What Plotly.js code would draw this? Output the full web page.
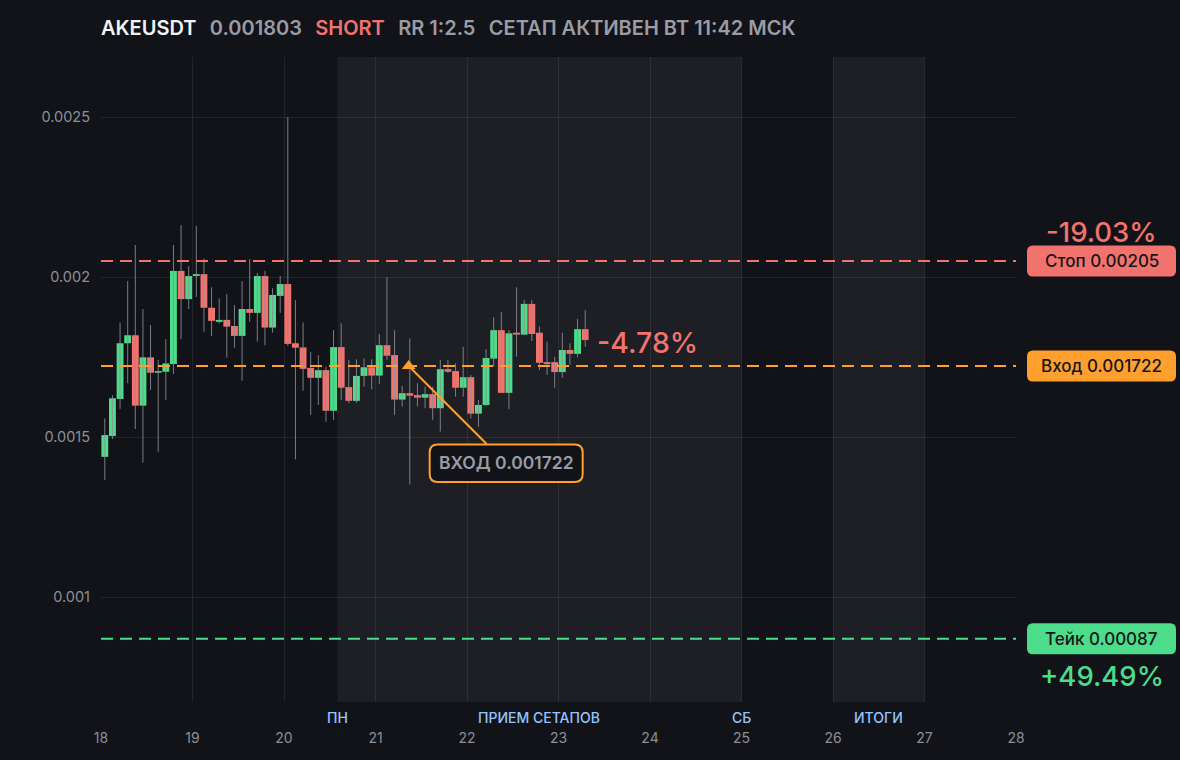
<!DOCTYPE html>
<html><head><meta charset="utf-8">
<script src="https://cdn.plot.ly/plotly-3.0.1.min.js"></script>
<style>html,body{margin:0;padding:0;background:#121318;} #chart{width:1180px;height:760px;}</style>
</head><body><div id="chart"></div>
<script>
// ---------- data ----------
const symbol = 'AKEUSDT';
const lastPriceText = '0.001803';
const sideText = 'SHORT';
const rrText = 'RR 1:2.5';
const statusText = 'СЕТАП АКТИВЕН ВТ 11:42 МСК';

const candleStartUTC = [2025, 9, 18, 1]; // 18 Oct 2025 01:00, 2h candles
const candleHours = 2;

const opens = [0.001438,0.001503,0.001619,0.001793,0.001818,0.001598,0.001749,0.001701,0.001704,0.001728,
0.002019,0.001931,0.002003,0.002009,0.001904,0.001860,0.001866,0.001847,0.001816,0.001900,
0.001888,0.002003,0.001842,0.001941,0.001978,0.001793,0.001780,0.001716,0.001685,0.001709,
0.001582,0.001781,0.001656,0.001613,0.001691,0.001718,0.001692,0.001787,0.001756,0.001617,
0.001637,0.001631,0.001623,0.001634,0.001590,0.001712,0.001706,0.001654,0.001687,0.001573,
0.001600,0.001745,0.001834,0.001638,0.001826,0.001820,0.001916,0.001826,0.001734,0.001734,
0.001703,0.001772,0.001760,0.001837];
const highs = [0.001558,0.001631,0.001858,0.001987,0.002100,0.001900,0.001850,0.001741,0.001806,0.002100,
0.002162,0.002034,0.002160,0.002058,0.001968,0.001933,0.001947,0.001912,0.001987,0.002056,
0.002013,0.002019,0.001965,0.002003,0.002500,0.001928,0.001858,0.001766,0.001756,0.001720,
0.001834,0.001855,0.001741,0.001743,0.001745,0.001743,0.001822,0.001999,0.001834,0.001660,
0.001808,0.001668,0.001657,0.001657,0.001741,0.001741,0.001730,0.001782,0.001694,0.001616,
0.001774,0.001874,0.001891,0.001834,0.001968,0.001928,0.001928,0.001845,0.001798,0.001751,
0.001826,0.001793,0.001869,0.001897];
const lows = [0.001366,0.001494,0.001588,0.001668,0.001525,0.001420,0.001647,0.001454,0.001616,0.001697,
0.001806,0.001900,0.001938,0.001829,0.001816,0.001855,0.001748,0.001779,0.001676,0.001860,
0.001798,0.001787,0.001826,0.001888,0.001785,0.001430,0.001645,0.001569,0.001600,0.001548,
0.001553,0.001616,0.001605,0.001607,0.001657,0.001649,0.001666,0.001741,0.001569,0.001595,
0.001352,0.001595,0.001590,0.001553,0.001517,0.001700,0.001626,0.001626,0.001558,0.001532,
0.001597,0.001720,0.001637,0.001587,0.001751,0.001818,0.001800,0.001709,0.001694,0.001654,
0.001685,0.001725,0.001749,0.001782];
const closes = [0.001506,0.001621,0.001793,0.001818,0.001598,0.001749,0.001701,0.001706,0.001730,0.002019,
0.001931,0.002003,0.002009,0.001904,0.001863,0.001866,0.001845,0.001816,0.001900,0.001888,
0.002003,0.001842,0.001944,0.001978,0.001791,0.001779,0.001713,0.001685,0.001709,0.001582,
0.001781,0.001654,0.001613,0.001691,0.001718,0.001692,0.001787,0.001754,0.001617,0.001637,
0.001629,0.001623,0.001634,0.001590,0.001712,0.001704,0.001654,0.001687,0.001573,0.001600,
0.001747,0.001834,0.001638,0.001824,0.001820,0.001916,0.001822,0.001732,0.001728,0.001703,
0.001772,0.001760,0.001837,0.001803];

const stopPrice = 0.00205;
const entryPrice = 0.001722;
const takePrice = 0.00087;
const lastPrice = 0.001803;
const stopLabel = 'Стоп 0.00205';
const entryLabel = 'Вход 0.001722';
const takeLabel = 'Тейк 0.00087';
const stopPct = '-19.03%';
const takePct = '+49.49%';
const currentPct = '-4.78%';
const entryTime = '2025-10-21 08:42:00';
const entryNote = 'ВХОД 0.001722';

const dayTickVals = ['2025-10-18','2025-10-19','2025-10-20','2025-10-21','2025-10-22','2025-10-23','2025-10-24','2025-10-25','2025-10-26','2025-10-27','2025-10-28'];
const dayTickText = ['18','19','20','21','22','23','24','25','26','27','28'];
const priceTickVals = [0.001, 0.0015, 0.002, 0.0025];
const priceTickText = ['0.001', '0.0015', '0.002', '0.0025'];

const bandStarts = ['2025-10-20 14:00:00', '2025-10-26 00:00:00'];
const bandEnds = ['2025-10-25 00:00:00', '2025-10-27 00:00:00'];
const sessionLabels = ['ПН', 'ПРИЕМ СЕТАПОВ', 'СБ', 'ИТОГИ'];
const sessionLabelTimes = ['2025-10-20 14:00:00', '2025-10-22 19:00:00', '2025-10-25 00:00:00', '2025-10-26 12:00:00'];

// ---------- styles ----------
const BG = '#121318', BAND = '#1e1f24', GRID = 'rgba(255,255,255,0.075)';
const GREEN = '#4cdc8a', RED = '#f2736e', ORANGE = '#ff9f2e';
const GRAY = '#9a9ca5', TICK = '#8c8f97', BLUE = '#93c5fd';
const FONT = 'Inter, "Noto Sans", sans-serif';

function fmt(ms) { return new Date(ms).toISOString().slice(0, 19).replace('T', ' '); }
const t0 = Date.UTC(candleStartUTC[0], candleStartUTC[1], candleStartUTC[2], candleStartUTC[3]);
const times = opens.map((_, i) => fmt(t0 + i * candleHours * 3600e3));

const wx = [], wy = [];
times.forEach((t, i) => { wx.push(t, t, null); wy.push(lows[i], highs[i], null); });

const wicks = { type: 'scatter', mode: 'lines', x: wx, y: wy, line: { color: 'rgba(140,143,150,0.85)', width: 1 }, hoverinfo: 'skip', showlegend: false };
const bodies = {
  type: 'bar', x: times,
  base: opens.map((o, i) => Math.min(o, closes[i])),
  y: opens.map((o, i) => Math.abs(closes[i] - o)),
  width: candleHours * 3600e3 * 0.9,
  marker: { color: opens.map((o, i) => closes[i] >= o ? GREEN : RED), line: { width: 0 } },
  hoverinfo: 'skip', showlegend: false
};
const marker = { type: 'scatter', mode: 'markers', x: [entryTime], y: [entryPrice], marker: { symbol: 'triangle-up', size: 12, color: ORANGE }, hoverinfo: 'skip', showlegend: false };

function rrect(x0, y0, x1, y1, r) {
  return `M ${x0 + r},${y0} L ${x1 - r},${y0} Q ${x1},${y0} ${x1},${y0 + r} L ${x1},${y1 - r} Q ${x1},${y1} ${x1 - r},${y1} L ${x0 + r},${y1} Q ${x0},${y1} ${x0},${y1 - r} L ${x0},${y0 + r} Q ${x0},${y0} ${x0 + r},${y0} Z`;
}

const shapes = [];
bandStarts.forEach((s, i) => shapes.push({ type: 'rect', xref: 'x', yref: 'paper', x0: s, x1: bandEnds[i], y0: 0, y1: 1, fillcolor: BAND, line: { width: 0 }, layer: 'below' }));
[[stopPrice, RED], [entryPrice, ORANGE], [takePrice, GREEN]].forEach(([p, c]) => {
  shapes.push({ type: 'line', xref: 'paper', yref: 'y', x0: 0, x1: 1, y0: p, y1: p, line: { color: c, width: 2, dash: '12px,7px' }, layer: 'above' });
  shapes.push({ type: 'path', xref: 'paper', yref: 'y', xsizemode: 'pixel', ysizemode: 'pixel', xanchor: 1, yanchor: p, path: rrect(11, -15.5, 160, 15.5, 6), fillcolor: c, line: { width: 0 }, layer: 'above' });
});
// entry callout
shapes.push({ type: 'line', xref: 'x', yref: 'y', xsizemode: 'pixel', ysizemode: 'pixel', xanchor: entryTime, yanchor: entryPrice, x0: 2, y0: -2, x1: 78, y1: -78, line: { color: ORANGE, width: 2 }, layer: 'above' });
shapes.push({ type: 'path', xref: 'x', yref: 'y', xsizemode: 'pixel', ysizemode: 'pixel', xanchor: entryTime, yanchor: entryPrice, path: rrect(21, -116, 174, -78.5, 8), fillcolor: BG, line: { color: ORANGE, width: 2 }, layer: 'above' });

const S = '&nbsp;&nbsp;&#8201;';
const annotations = [
  { xref: 'paper', yref: 'paper', x: 0, y: 1 + 29 / 645, xanchor: 'left', yanchor: 'middle', showarrow: false, xshift: -2,
    text: `<span style="color:#f2f3f5">${symbol}</span>${S}${lastPriceText}${S}<span style="color:${RED}">${sideText}</span>${S}${rrText}${S}${statusText}`,
    font: { family: FONT, size: 20, color: GRAY, weight: 600 } },
  { xref: 'paper', yref: 'y', x: 1, y: stopPrice, xshift: 85.5, xanchor: 'center', yanchor: 'middle', showarrow: false, text: stopLabel, font: { family: FONT, size: 17, color: '#16171b', weight: 500 } },
  { xref: 'paper', yref: 'y', x: 1, y: entryPrice, xshift: 85.5, xanchor: 'center', yanchor: 'middle', showarrow: false, text: entryLabel, font: { family: FONT, size: 17, color: '#16171b', weight: 500 } },
  { xref: 'paper', yref: 'y', x: 1, y: takePrice, xshift: 85.5, xanchor: 'center', yanchor: 'middle', showarrow: false, text: takeLabel, font: { family: FONT, size: 17, color: '#16171b', weight: 500 } },
  { xref: 'paper', yref: 'y', x: 1, y: stopPrice, xshift: 85.5, yshift: 29, xanchor: 'center', yanchor: 'middle', showarrow: false, text: stopPct, font: { family: FONT, size: 27.5, color: RED, weight: 500 } },
  { xref: 'paper', yref: 'y', x: 1, y: takePrice, xshift: 85.5, yshift: -37, xanchor: 'center', yanchor: 'middle', showarrow: false, text: takePct, font: { family: FONT, size: 27.5, color: GREEN, weight: 500 } },
  { xref: 'x', yref: 'y', x: times[times.length - 1], y: lastPrice, xshift: 10, yshift: -2, xanchor: 'left', yanchor: 'middle', showarrow: false, text: currentPct, font: { family: FONT, size: 28.5, color: RED, weight: 500 } },
  { xref: 'x', yref: 'y', x: entryTime, y: entryPrice, xshift: 97.5, yshift: -97, xanchor: 'center', yanchor: 'middle', showarrow: false, text: entryNote, font: { family: FONT, size: 17.5, color: GRAY, weight: 600 } }
];
sessionLabels.forEach((l, i) => annotations.push({ xref: 'x', yref: 'paper', x: sessionLabelTimes[i], y: -15 / 645, xanchor: 'center', yanchor: 'middle', showarrow: false, text: l, font: { family: FONT, size: 14, color: BLUE, weight: 500 } }));

const layout = {
  width: 1180, height: 760,
  margin: { l: 101, r: 164, t: 57, b: 58 },
  paper_bgcolor: BG, plot_bgcolor: BG,
  font: { family: FONT, color: TICK },
  showlegend: false, hovermode: false, barmode: 'overlay',
  xaxis: { type: 'date', range: ['2025-10-18', '2025-10-28'], tickvals: dayTickVals, ticktext: dayTickText,
    showgrid: true, gridcolor: GRID, gridwidth: 1, zeroline: false, showline: false, ticks: '',
    tickfont: { family: FONT, size: 14, color: TICK }, ticklabelstandoff: 26, fixedrange: true },
  yaxis: { range: [0.000672, 0.0026875], tickvals: priceTickVals, ticktext: priceTickText,
    showgrid: true, gridcolor: GRID, gridwidth: 1, zeroline: false, showline: false, ticks: '',
    tickfont: { family: FONT, size: 14.5, color: TICK }, ticklabelstandoff: 10, fixedrange: true },
  shapes: shapes, annotations: annotations
};

Plotly.newPlot('chart', [wicks, bodies, marker], layout, { displayModeBar: false, staticPlot: true });
</script>
</body></html>
